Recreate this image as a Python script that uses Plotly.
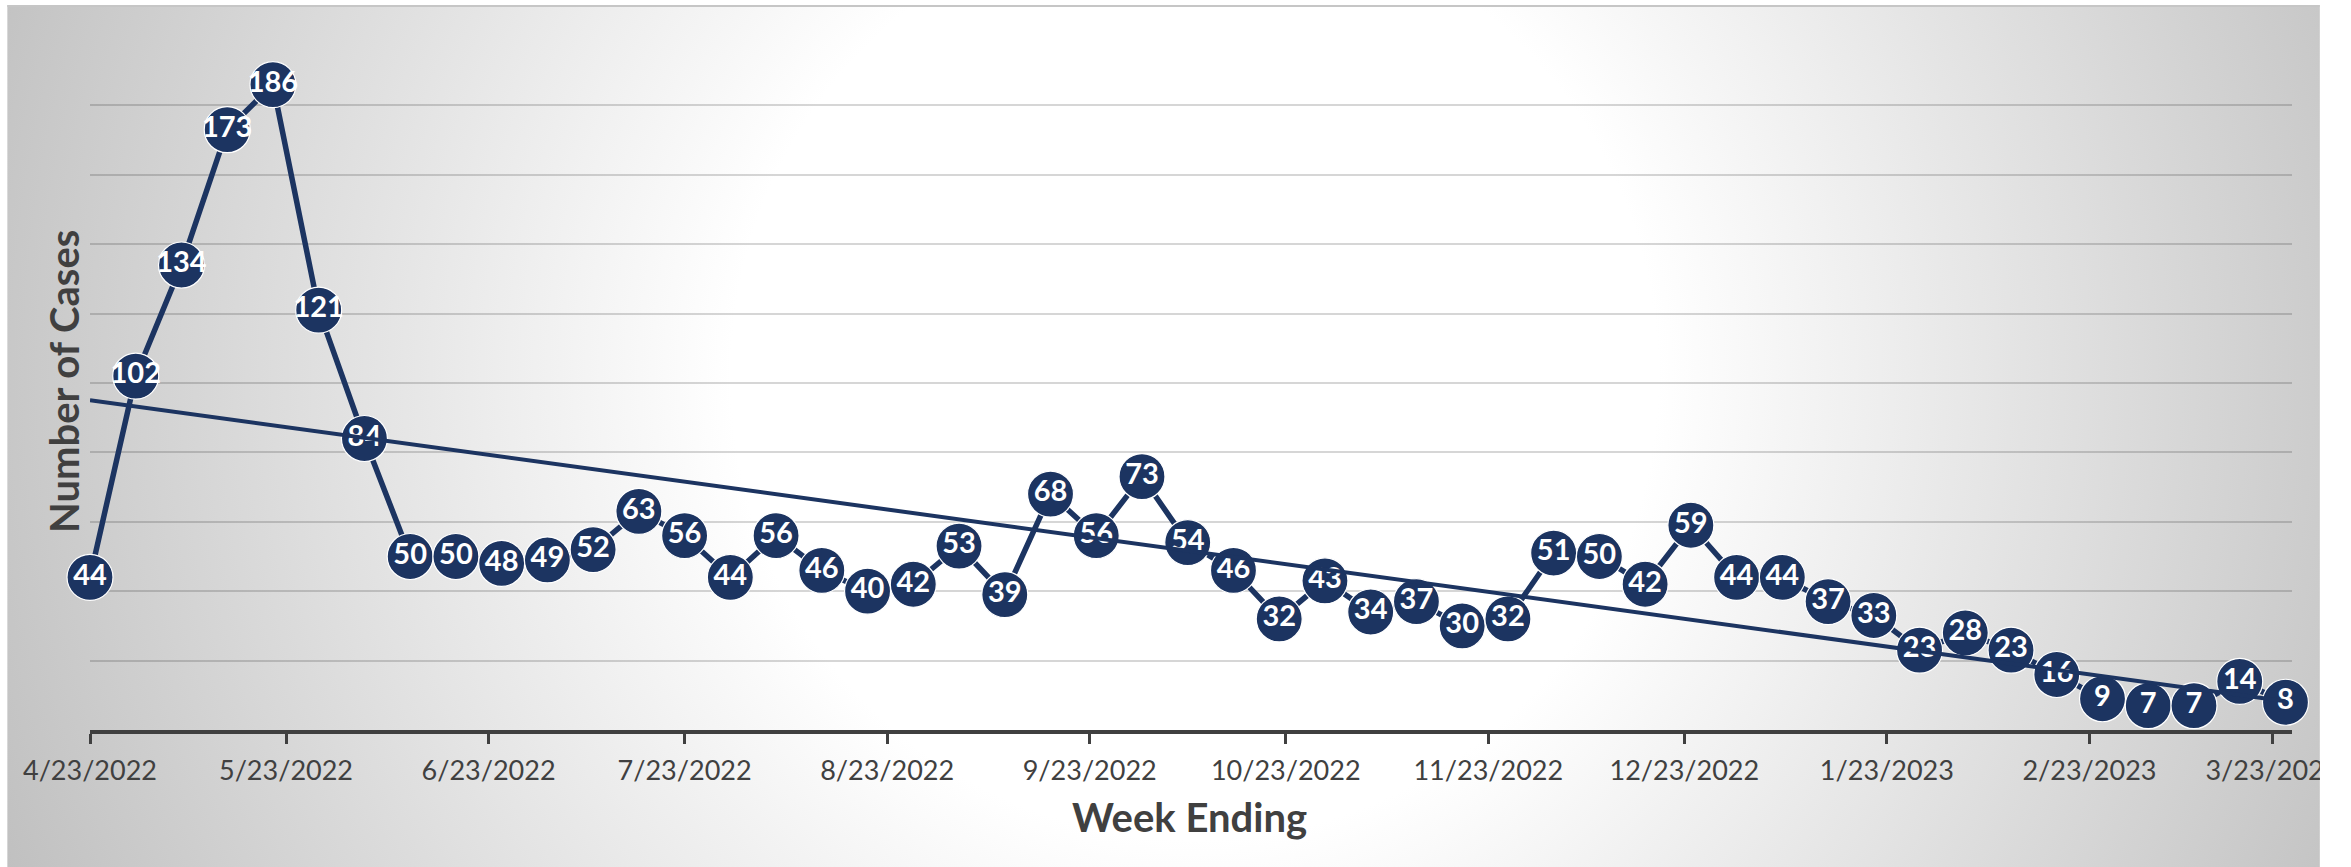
import base64
import numpy as np
import pandas as pd
import plotly.graph_objects as go

# ---------------- data ----------------
start_week = "2022-04-23"
cases = [44, 102, 134, 173, 186, 121, 84, 50, 50, 48, 49, 52, 63, 56, 44, 56, 46, 40,
         42, 53, 39, 68, 56, 73, 54, 46, 32, 43, 34, 37, 30, 32, 51, 50, 42, 59, 44,
         44, 37, 33, 23, 28, 23, 16, 9, 7, 7, 14, 8]
week_ending = pd.date_range(start_week, periods=len(cases), freq="7D")

tick_dates = ["2022-04-23", "2022-05-23", "2022-06-23", "2022-07-23", "2022-08-23",
              "2022-09-23", "2022-10-23", "2022-11-23", "2022-12-23", "2023-01-23",
              "2023-02-23", "2023-03-23"]
tick_labels = ["4/23/2022", "5/23/2022", "6/23/2022", "7/23/2022", "8/23/2022",
               "9/23/2022", "10/23/2022", "11/23/2022", "12/23/2022", "1/23/2023",
               "2/23/2023", "3/23/2023"]

x_title = "Week Ending"
y_title = "Number of Cases"

# linear trendline (as Excel's linear trend)
days = (week_ending - week_ending[0]).days.values.astype(float)
slope, intercept = np.polyfit(days, np.array(cases, dtype=float), 1)
trend_x = [week_ending[0], week_ending[-1]]
trend_y = [intercept, intercept + slope * days[-1]]

# ---------------- styling ----------------
W, H = 2351, 867
ML, MR, MT, MB = 90, 54, 36, 137
PW, PH = W - ML - MR, H - MT - MB
NAVY = "#1c3461"
TXT = "#404040"
FONT = "Lato"


def px_to_paper_x(px):
    return (px - ML) / PW


def px_to_paper_y(py):
    return (H - MB - py) / PH


# chart-area background: radial gradient as an SVG image
bg_x0, bg_y0, bg_x1, bg_y1 = 7, 5, 2325, 867
bg_w, bg_h = bg_x1 - bg_x0, bg_y1 - bg_y0
svg = (
    f'<svg xmlns="http://www.w3.org/2000/svg" width="{bg_w}" height="{bg_h}" '
    f'viewBox="0 0 {bg_w} {bg_h}" preserveAspectRatio="none">'
    '<defs><radialGradient id="g" gradientUnits="userSpaceOnUse" cx="1190" cy="370" r="1290">'
    '<stop offset="0" stop-color="#ffffff"/><stop offset="0.36" stop-color="#ffffff"/>'
    '<stop offset="1" stop-color="#c0c0c0"/></radialGradient></defs>'
    f'<rect width="{bg_w}" height="{bg_h}" fill="url(#g)"/>'
    f'<rect width="{bg_w}" height="2" fill="#c6c6c6"/></svg>'
)
svg_uri = "data:image/svg+xml;base64," + base64.b64encode(svg.encode()).decode()

fig = go.Figure()

fig.add_trace(go.Scatter(
    x=week_ending, y=cases, mode="lines+markers+text",
    text=[str(v) for v in cases], textposition="middle center",
    textfont=dict(family=FONT, size=29, color="white", weight=700),
    line=dict(color=NAVY, width=5.5),
    marker=dict(size=46, color=NAVY, line=dict(color="white", width=1.2)),
    cliponaxis=False, showlegend=False, hoverinfo="skip",
))

fig.add_trace(go.Scatter(
    x=trend_x, y=trend_y, mode="lines",
    line=dict(color=NAVY, width=4),
    cliponaxis=False, showlegend=False, hoverinfo="skip",
))

fig.update_layout(
    width=W, height=H,
    margin=dict(l=ML, r=MR, t=MT, b=MB),
    paper_bgcolor="white", plot_bgcolor="rgba(0,0,0,0)",
    font=dict(family=FONT, color=TXT),
    images=[dict(
        source=svg_uri, xref="paper", yref="paper",
        x=px_to_paper_x(bg_x0), y=px_to_paper_y(bg_y0),
        sizex=bg_w / PW, sizey=bg_h / PH,
        xanchor="left", yanchor="top", sizing="stretch", layer="below",
    )],
    xaxis=dict(
        type="date", range=["2022-04-23", "2023-03-26"],
        tickvals=tick_dates, ticktext=tick_labels,
        tickfont=dict(family=FONT, size=27, color=TXT),
        showgrid=False, zeroline=False,
        showline=True, linecolor=TXT, linewidth=4,
        ticks="outside", ticklen=10, tickwidth=3, tickcolor=TXT,
        ticklabelstandoff=4,
    ),
    yaxis=dict(
        range=[0, 200], dtick=20, showticklabels=False,
        showgrid=True, gridcolor="rgba(0,0,0,0.16)", gridwidth=2,
        zeroline=False, showline=False, ticks="",
    ),
    annotations=[
        dict(text=x_title, xref="paper", yref="paper",
             x=px_to_paper_x(1192), y=px_to_paper_y(817),
             xanchor="center", yanchor="middle", showarrow=False,
             font=dict(family=FONT, size=40, color=TXT, weight=700)),
        dict(text=y_title, xref="paper", yref="paper",
             x=px_to_paper_x(64), y=px_to_paper_y(382),
             xanchor="center", yanchor="middle", showarrow=False, textangle=-90,
             font=dict(family=FONT, size=40, color=TXT, weight=700)),
    ],
    shapes=[dict(
        type="rect", xref="paper", yref="paper",
        x0=px_to_paper_x(bg_x1), x1=px_to_paper_x(W + 20),
        y0=px_to_paper_y(H + 20), y1=px_to_paper_y(-20),
        fillcolor="white", line=dict(width=0), layer="above",
    )],
)

fig.write_html("out.html", config={"displayModeBar": False},
               post_script="document.body.style.margin='0';")
